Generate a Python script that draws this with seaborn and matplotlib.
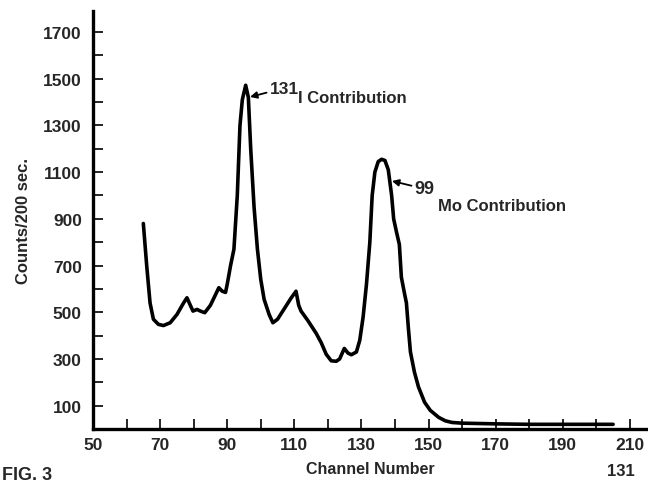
import numpy as np
import pandas as pd
import matplotlib
matplotlib.use("Agg")
import matplotlib.pyplot as plt
from matplotlib.ticker import FixedLocator
import seaborn as sns

sns.set_style("ticks")
plt.rcParams['font.family'] = ['Liberation Sans', 'DejaVu Sans']

# spectrum
channel = [65, 66, 67, 68, 69.5, 71, 73, 75, 77, 78, 79, 79.8, 81, 82, 83.3, 85, 86.5,
           87.5, 88.5, 89.5, 90, 91, 92, 93, 93.8, 94.5, 95.5, 96.3, 97, 98, 99, 100,
           101, 102.5, 103.6, 105, 107, 109, 110.5, 111.3, 112, 114, 116.5, 118, 119.5,
           121, 122.5, 123.5, 124.9, 126, 127, 128.5, 129.5, 130.5, 131.5, 132.5, 133.2,
           134, 135, 136, 137, 138, 139, 139.6, 140.5, 141.3, 141.9, 142.7, 143.4, 144,
           144.6, 145.8, 147, 148.8, 150.5, 153, 155, 157, 160, 170, 180, 190, 205]
counts = [880, 700, 540, 470, 448, 443, 455, 490, 540, 562, 530, 505, 512, 505, 498, 530, 575,
          605, 590, 585, 620, 700, 770, 1000, 1300, 1410, 1472, 1420, 1200, 950, 770, 640,
          555, 490, 455, 470, 515, 560, 590, 530, 505, 465, 410, 370, 320,
          292, 290, 300, 345, 325, 318, 330, 380, 480, 620, 800, 1000,
          1100, 1145, 1155, 1150, 1110, 1000, 900, 840, 790, 650, 590, 540, 430,
          330, 243, 180, 115, 80, 50, 35, 28, 25, 22, 20, 20, 20]

x_ticks = [50, 70, 90, 110, 130, 150, 170, 190, 210]
y_ticks = [100, 300, 500, 700, 900, 1100, 1300, 1500, 1700]

df = pd.DataFrame({"channel": channel, "counts": counts})

fig = plt.figure(figsize=(6.48, 4.85), dpi=100)
ax = fig.add_axes([93 / 648, 1 - 430 / 485, 555 / 648, 418 / 485])

sns.lineplot(data=df, x="channel", y="counts", sort=False, color="black",
             linewidth=2.6, ax=ax)

ax.set_xlim(50, 215.4)
ax.set_ylim(0, 1790)
ax.xaxis.set_major_locator(FixedLocator(x_ticks))
ax.yaxis.set_major_locator(FixedLocator(y_ticks))
ax.xaxis.set_minor_locator(FixedLocator([t + 10 for t in x_ticks[:-1]]))
ax.yaxis.set_minor_locator(FixedLocator([t + 100 for t in y_ticks[:-1]]))

for s in ["top", "right"]:
    ax.spines[s].set_visible(False)
for s in ["left", "bottom"]:
    ax.spines[s].set_linewidth(2.4)
    ax.spines[s].set_color("black")

ax.tick_params(which="both", direction="in", width=1.2, color="black", length=7)
ax.tick_params(axis="y", which="major", pad=8, labelsize=12.5)
ax.tick_params(axis="x", which="major", pad=6, labelsize=12.5)
for lab in ax.get_xticklabels() + ax.get_yticklabels():
    lab.set_fontweight("bold")

ax.set_xlabel("Channel Number", fontsize=11.5, fontweight="bold", labelpad=6)
ax.set_ylabel("Counts/200 sec.", fontsize=12, fontweight="bold", labelpad=9)

# peak labels: isotope number raised, name set lower
arrow = dict(arrowstyle="-|>", color="black", lw=1.3, mutation_scale=10,
             shrinkA=0, shrinkB=0)
ax.annotate("131", xy=(96.8, 1422), xytext=(102.7, 1460), fontsize=12.5,
            fontweight="bold", va="center", ha="left", arrowprops=arrow)
ax.text(111.1, 1420, "I Contribution", fontsize=12, fontweight="bold",
        va="center", ha="left")
ax.annotate("99", xy=(139.1, 1062), xytext=(145.9, 1028), fontsize=13,
            fontweight="bold", va="center", ha="left", arrowprops=arrow)
ax.text(152.8, 959, "Mo Contribution", fontsize=12, fontweight="bold",
        va="center", ha="left")

# start of the caption below the plot
fig.text(0.003, 0.003, "FIG. 3", fontsize=13, fontweight="bold", ha="left", va="bottom")
fig.text(0.937, 0.012, "131", fontsize=12, fontweight="bold", ha="left", va="bottom")

fig.savefig("out.png", dpi=100)
